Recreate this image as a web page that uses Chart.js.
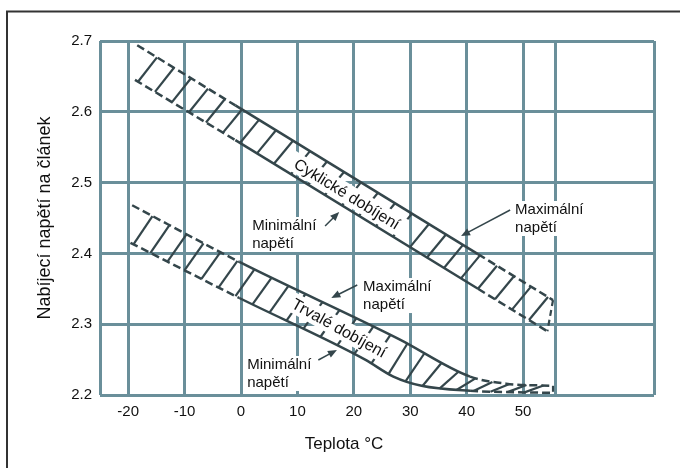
<!DOCTYPE html>
<html lang="cs">
<head>
<meta charset="utf-8">
<script src="https://cdn.jsdelivr.net/npm/chart.js@4.4.1/dist/chart.umd.min.js"></script>
<style>
  html,body{margin:0;padding:0;background:#fff;}
  #wrap{width:680px;height:468px;}
</style>
</head>
<body>
<div id="wrap"><canvas id="graf" width="680" height="468"></canvas></div>
<script>
/* DATA */
const xTicks = [-20,-10,0,10,20,30,40,50];
const xTickLabels = ["-20","-10","0","10","20","30","40","50"];
const yTicks = [2.2,2.3,2.4,2.5,2.6,2.7];

// cyklické dobíjení (horní pás)
const cyklMaxT = [-18.4,-1,42,55.3];
const cyklMaxU = [2.694,2.609,2.399,2.334];
const cyklMinT = [-18.8,-1,42,54.3];
const cyklMinU = [2.645,2.560,2.350,2.290];

// trvalé dobíjení (dolní pás)
const trvMaxT = [-19.3,-0.3,28,40.6,47,55.3];
const trvMaxU = [2.468,2.388,2.279,2.226,2.216,2.213];
const trvMinT = [-19.6,-0.3,22,27,32,40.6,55.3];
const trvMinU = [2.415,2.337,2.250,2.226,2.213,2.206,2.203];

/* STYL */
const FONT = '"Liberation Sans", Arial, sans-serif';
const MRIZKA = "#6a8f9a";
const TMAVA = "#34464b";
const TEXT = "#111";
const KROK = 17, DX = 19;

/* POPISKY */
const pasma = [
  {horni:0, dolni:1, popis:"Cyklické dobíjení", t:18.8, u:2.484, uhel:31.5},
  {horni:2, dolni:3, popis:"Trvalé dobíjení", t:17.4, u:2.2946, uhel:29}
];
const odkazy = [
  {radky:["Minimální","napětí"], t:1.97, u:2.4387, odT:14.9, odU:2.4387, kT:17.4, kU:2.4585},
  {radky:["Maximální","napětí"], t:21.64, u:2.3525, odT:20.6, odU:2.3554, kT:16.0, kU:2.337},
  {radky:["Minimální","napětí"], t:1.09, u:2.2424, odT:13.7, odU:2.2494, kT:17.0, kU:2.2636},
  {radky:["Maximální","napětí"], t:48.58, u:2.4613, odT:47.7, odU:2.4613, kT:39.0, kU:2.4246}
];

function body(t,u){ return t.map((x,i)=>({x:x, y:u[i]})); }

/* HRANA PÁSU - čárkovaně mimo plný úsek */
function hrana(t,u,od,po,krivka){
  return {
    data: body(t,u),
    borderColor: TMAVA,
    borderWidth: 2.5,
    pointRadius: 0,
    fill: false,
    tension: 0,
    cubicInterpolationMode: krivka ? "monotone" : "default",
    segment: {
      borderDash: c => (c.p1.parsed.x <= od+1e-6 || c.p0.parsed.x >= po-1e-6) ? [8,4] : undefined
    }
  };
}

function sipka(c,x0,y0,x1,y1){
  const a = Math.atan2(y1-y0,x1-x0), L = 9, W = 3.8;
  c.strokeStyle = TMAVA; c.lineWidth = 1.5;
  c.beginPath(); c.moveTo(x0,y0); c.lineTo(x1-L*0.8*Math.cos(a), y1-L*0.8*Math.sin(a)); c.stroke();
  c.fillStyle = TMAVA;
  c.beginPath();
  c.moveTo(x1,y1);
  c.lineTo(x1-L*Math.cos(a)+W*Math.sin(a), y1-L*Math.sin(a)-W*Math.cos(a));
  c.lineTo(x1-L*Math.cos(a)-W*Math.sin(a), y1-L*Math.sin(a)+W*Math.cos(a));
  c.closePath(); c.fill();
}

/* RÁMEČEK */
const ramecek = {
  id:"ramecek",
  beforeDraw(chart){
    const c = chart.ctx;
    c.save();
    c.fillStyle = "#fff"; c.fillRect(0,0,chart.width,chart.height);
    c.strokeStyle = "#333"; c.lineWidth = 2;
    c.strokeRect(7,11.5,chart.width+40,chart.height+40);
    c.restore();
  }
};

/* ODKAZY SE ŠIPKAMI */
const odkazyPlugin = {
  id:"odkazy",
  beforeDatasetsDraw(chart){
    const c = chart.ctx, x = chart.scales.x, y = chart.scales.y;
    c.save();
    c.font = "15px " + FONT; c.textBaseline = "middle"; c.textAlign = "left";
    odkazy.forEach(o=>{
      const tx = x.getPixelForValue(o.t), ty = y.getPixelForValue(o.u);
      const w = Math.max(...o.radky.map(r=>c.measureText(r).width));
      c.fillStyle = "#fff";
      c.fillRect(tx-4, ty-9, w+8, 18*(o.radky.length-1)+17);
      c.fillStyle = TEXT;
      o.radky.forEach((r,i)=>c.fillText(r, tx, ty+i*18));
      sipka(c, x.getPixelForValue(o.odT), y.getPixelForValue(o.odU), x.getPixelForValue(o.kT), y.getPixelForValue(o.kU));
    });
    c.restore();
  }
};

/* ŠRAFOVÁNÍ PÁSŮ */
const srafy = {
  id:"srafy",
  afterDatasetsDraw(chart){
    const c = chart.ctx, x = chart.scales.x, y = chart.scales.y;
    pasma.forEach(p=>{
      const H = chart.getDatasetMeta(p.horni), D = chart.getDatasetMeta(p.dolni);
      const hp = H.data, dp = D.data;
      const hEnd = hp[hp.length-1], dEnd = dp[dp.length-1];
      c.save();
      c.strokeStyle = TMAVA; c.lineWidth = 2.2;
      for(let px = dp[0].x+3; px <= dEnd.x && px+DX <= hEnd.x; px += KROK){
        const a = D.dataset.interpolate({x:px},"x"), b = H.dataset.interpolate({x:px+DX},"x");
        if(!a || !b) continue;
        c.beginPath(); c.moveTo(a.x,a.y); c.lineTo(b.x,b.y); c.stroke();
      }
      c.setLineDash([6,4]);
      c.beginPath(); c.moveTo(hEnd.x,hEnd.y); c.lineTo(dEnd.x,dEnd.y); c.stroke();
      c.setLineDash([]);
      c.translate(x.getPixelForValue(p.t), y.getPixelForValue(p.u));
      c.rotate(p.uhel*Math.PI/180);
      c.font = "16px " + FONT;
      const w = c.measureText(p.popis).width;
      c.fillStyle = "#fff"; c.fillRect(-w/2-6,-10,w+12,20);
      c.fillStyle = TEXT; c.textAlign = "center"; c.textBaseline = "middle";
      c.fillText(p.popis,0,1);
      c.restore();
    });
  }
};

const graf = new Chart(document.getElementById("graf"), {
  type: "line",
  data: {
    datasets: [
      hrana(cyklMaxT,cyklMaxU,-1,42,false),
      hrana(cyklMinT,cyklMinU,-1,42,false),
      hrana(trvMaxT,trvMaxU,-0.3,40.6,true),
      hrana(trvMinT,trvMinU,-0.3,40.6,true)
    ]
  },
  options: {
    responsive: false,
    animation: false,
    devicePixelRatio: 1,
    layout: { padding: { left: 8, top: 41, right: 0, bottom: 0 } },
    plugins: {
      legend: { display: false },
      tooltip: { enabled: false },
      title: {
        display: true, position: "bottom", text: "Teplota °C", color: TEXT,
        font: { family: FONT, size: 17, weight: "normal" },
        padding: { top: 2, bottom: 13 }
      }
    },
    scales: {
      x: {
        type: "linear", min: -25, max: 73.2,
        afterBuildTicks: s => { s.ticks = [-25, ...xTicks, 55.7, 73.2].map(v=>({value:v})); },
        afterFit: s => { s.height = 37.6; },
        grid: { color: MRIZKA, lineWidth: 3, drawTicks: false },
        border: { display: false },
        ticks: {
          padding: 8, color: TEXT, autoSkip: false, maxRotation: 0,
          font: { family: FONT, size: 15 },
          callback: v => { const i = xTicks.indexOf(v); return i < 0 ? "" : xTickLabels[i]; }
        }
      },
      y: {
        type: "linear", min: 2.2, max: 2.7,
        afterBuildTicks: s => { s.ticks = yTicks.map(v=>({value:v})); },
        afterFit: s => { s.width = 92; },
        grid: { color: MRIZKA, lineWidth: 3, drawTicks: false },
        border: { display: false },
        ticks: {
          padding: 8, color: TEXT,
          font: { family: FONT, size: 15 },
          callback: v => Number(v).toFixed(1)
        },
        title: {
          display: true, text: "Nabíjecí napětí na článek", color: TEXT,
          font: { family: FONT, size: 18 }, padding: { top: 26 }
        }
      },
      y2: {
        position: "right", display: true,
        grid: { display: false }, border: { display: false },
        ticks: { display: false },
        afterFit: s => { s.width = 26; }
      }
    }
  },
  plugins: [ramecek, odkazyPlugin, srafy]
});
</script>
</body>
</html>
